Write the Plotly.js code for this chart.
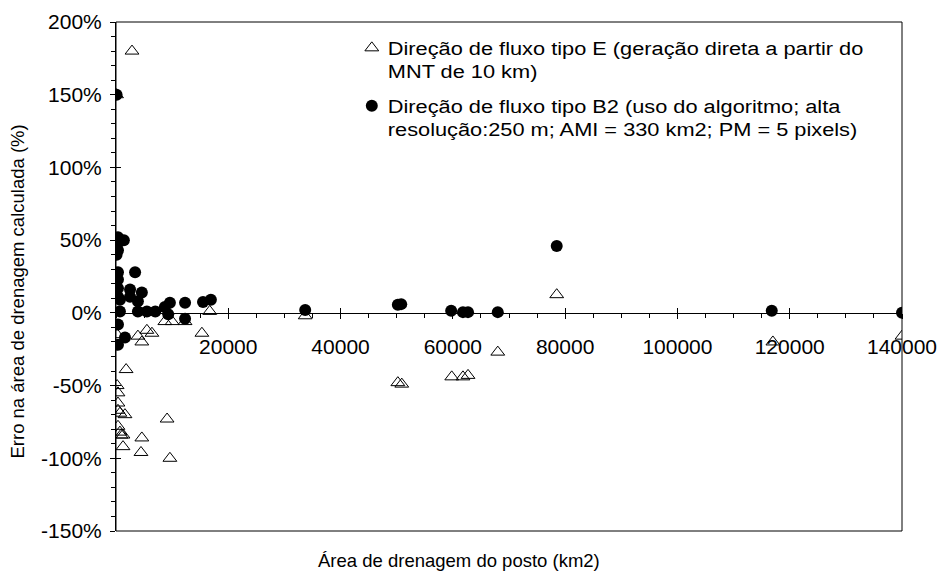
<!DOCTYPE html>
<html>
<head>
<meta charset="utf-8">
<script src="https://cdn.plot.ly/plotly-3.0.1.min.js"></script>
<style>html,body{margin:0;padding:0;background:#fff;}#chart{width:939px;height:573px;}</style>
</head>
<body>
<div id="chart"></div>
<script>
// Series E: Direção de fluxo tipo E (área km2, erro %)
const xE = [2850, 100, 200, 3900, 5500, 4600, 6400, 8700, 10000, 12300, 15300, 16700, 33700,
            1800, 200, 350, 350, 350, 700, 1600, 9100, 350, 700, 900, 1250, 4600, 1250, 4450, 9600,
            50200, 50900, 59800, 61800, 62700, 68000, 78500, 117000, 140000];
const yE = [180, 150, -15, -16, -12, -20, -14, -6, -6, -6, -14, 1, -2,
            -39, -50, -55, -62, -67, -69, -70, -73, -78, -82, -84, -84, -86, -92, -96, -100,
            -48, -49, -44, -44, -43, -27, 12.5, -20, -16];
// Series B2: Direção de fluxo tipo B2
const xB2 = [100, 350, 1400, 200, 350, 100, 350, 3400, 350, 350, 2500, 4600, 350, 2500, 700, 3900,
             700, 3900, 5500, 7000, 8700, 9600, 12300, 12300, 15500, 16900, 9300, 350, 1600, 350,
             33700, 50200, 50800, 59700, 61800, 62700, 68000, 78500, 116800, 140000];
const yB2 = [150, 52, 50, 47, 43, 40, 28, 28, 23, 17, 16, 14, 11, 11, 9, 8,
             1, 1, 1, 1, 4, 7, 7, -4, 7.5, 9, -1, -8, -17, -22,
             2, 5.5, 6, 1.5, 0.5, 0.5, 0.5, 46, 1.5, 0];
const yTickVals = [-150, -100, -50, 0, 50, 100, 150, 200];
const yTickText = ['-150%', '-100%', '-50%', '0%', '50%', '100%', '150%', '200%'];
const xTickVals = [20000, 40000, 60000, 80000, 100000, 120000, 140000];
const xTickText = ['20000', '40000', '60000', '80000', '100000', '120000', '140000'];
const nameE = 'Direção de fluxo tipo E (geração direta a partir do<br>MNT de 10 km)';
const nameB2 = 'Direção de fluxo tipo B2 (uso do algoritmo; alta<br>resolução:250 m; AMI = 330 km2; PM = 5 pixels)';
const xTitle = 'Área de drenagem do posto (km2)';
const yTitle = 'Erro na área de drenagem calculada (%)';

const FONT = 'Liberation Sans, Arial, sans-serif';
const yMin = -150, yMax = 200;
const zeroPos = (0 - yMin) / (yMax - yMin);

const traces = [
  {x: xE, y: yE, type: 'scatter', mode: 'markers', name: nameE, legendgroup: 'a',
   marker: {symbol: 'triangle-up-open', size: 12, color: '#000', line: {width: 1, color: '#000'}}},
  {x: xB2, y: yB2, type: 'scatter', mode: 'markers', name: nameB2, legendgroup: 'b',
   marker: {symbol: 'circle', size: 12, color: '#000'}},
  // invisible helper trace for crossing (inside) ticks
  {x: [0], y: [0], xaxis: 'x2', yaxis: 'y2', mode: 'markers', marker: {opacity: 0}, showlegend: false, hoverinfo: 'skip'}
];

const layout = {
  width: 939, height: 573,
  paper_bgcolor: '#fff', plot_bgcolor: '#fff',
  margin: {l: 116, r: 37, t: 22, b: 42},
  font: {family: FONT, size: 19, color: '#000'},
  showlegend: true,
  legend: {x: 0.30, y: 0.985, xanchor: 'left', yanchor: 'top', valign: 'top',
           bgcolor: 'rgba(0,0,0,0)', borderwidth: 0, tracegroupgap: 8,
           font: {family: FONT, size: 18, color: '#000'}},
  xaxis: {range: [0, 140000], anchor: 'free', position: zeroPos, showgrid: false, zeroline: false,
          showline: true, linecolor: '#000', linewidth: 1,
          tickmode: 'array', tickvals: xTickVals, ticktext: xTickText,
          ticks: 'outside', ticklen: 5, tickcolor: '#000', ticklabelstandoff: 10,
          minor: {dtick: 5000, ticks: 'outside', ticklen: 4, tickcolor: '#000'},
          tickfont: {family: FONT, size: 21, color: '#000'}},
  yaxis: {range: [yMin, yMax], showgrid: false, zeroline: false, showline: true, linecolor: '#000', linewidth: 1,
          tickmode: 'array', tickvals: yTickVals, ticktext: yTickText,
          ticks: 'outside', ticklen: 5, tickcolor: '#000', ticklabelstandoff: 4,
          minor: {dtick: 10, ticks: 'outside', ticklen: 4, tickcolor: '#000'},
          tickfont: {family: FONT, size: 21, color: '#000'}},
  xaxis2: {range: [0, 140000], overlaying: 'x', anchor: 'free', position: zeroPos, showgrid: false, zeroline: false,
           showline: false, tickmode: 'array', tickvals: xTickVals, ticks: 'inside', ticklen: 5, tickcolor: '#000',
           showticklabels: false},
  yaxis2: {range: [yMin, yMax], overlaying: 'y', anchor: 'x2', side: 'left', showgrid: false, zeroline: false,
           showline: false, tickmode: 'array', tickvals: yTickVals, ticks: 'inside', ticklen: 5, tickcolor: '#000',
           showticklabels: false},
  shapes: [{type: 'rect', xref: 'paper', yref: 'paper', x0: 0, x1: 1, y0: 0, y1: 1,
            line: {color: '#000', width: 1}, fillcolor: 'rgba(0,0,0,0)', layer: 'above'}],
  annotations: [
    {text: xTitle, xref: 'paper', yref: 'paper', x: 0.436, y: -0.057, xanchor: 'center', yanchor: 'middle',
     showarrow: false, font: {family: FONT, size: 18.5, color: '#000'}},
    {text: yTitle, xref: 'paper', yref: 'paper', x: -0.125, y: 0.47, xanchor: 'center', yanchor: 'middle',
     textangle: -90, showarrow: false, font: {family: FONT, size: 18.5, color: '#000'}}
  ]
};

Plotly.newPlot('chart', traces, layout, {displayModeBar: false, staticPlot: true}).then(function () {
  // the legend is clipped to its computed box; lift the clip so widened text shows fully
  document.querySelectorAll('#chart .legend [clip-path], #chart .legend[clip-path]').forEach(function (e) {
    e.removeAttribute('clip-path');
  });
  // reference legend text is horizontally wider: stretch it slightly
  document.querySelectorAll('#chart .legendtext').forEach(function (t) {
    const x0 = parseFloat(t.getAttribute('x')) || 0;
    const prev = t.getAttribute('transform') || '';
    t.setAttribute('transform', prev + ' translate(' + (x0 - 4) + ',0) scale(1.21,1) translate(' + (-x0) + ',0)');
  });
});
</script>
</body>
</html>
